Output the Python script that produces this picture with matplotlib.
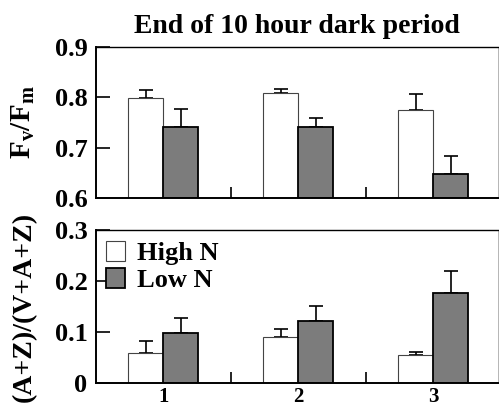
import numpy as np
import matplotlib
matplotlib.use("Agg")
import matplotlib.pyplot as plt

plt.rcParams['font.family'] = ['Liberation Serif', 'DejaVu Serif']
plt.rcParams['font.weight'] = 'bold'
plt.rcParams['mathtext.fontset'] = 'custom'
plt.rcParams['mathtext.rm'] = 'Liberation Serif:bold'
plt.rcParams['mathtext.bf'] = 'Liberation Serif:bold'
plt.rcParams['mathtext.it'] = 'Liberation Serif:bold'

groups = ['1', '2', '3']
fvfm_high = [0.799, 0.808, 0.775]
fvfm_high_err = [0.015, 0.009, 0.031]
fvfm_low = [0.742, 0.742, 0.648]
fvfm_low_err = [0.034, 0.017, 0.036]
az_high = [0.058, 0.091, 0.054]
az_high_err = [0.025, 0.015, 0.007]
az_low = [0.099, 0.122, 0.177]
az_low_err = [0.028, 0.029, 0.043]

fig = plt.figure(figsize=(4.99, 4.09), dpi=100)
ax1 = fig.add_axes([0.192, 0.516, 0.806, 0.369])
ax2 = fig.add_axes([0.192, 0.0636, 0.806, 0.374])

x = np.arange(1, len(groups) + 1)
w = 0.26
high_col = 'white'
low_col = '#7c7c7c'
tick_fs = 19


def draw(ax, hi, hi_err, lo, lo_err, base):
    ax.bar(x - w / 2, np.array(hi) - base, w, bottom=base, color=high_col,
           edgecolor='#444444', linewidth=0.8, label='High N', zorder=2)
    ax.bar(x + w / 2, np.array(lo) - base, w, bottom=base, color=low_col,
           edgecolor='black', linewidth=1.3, label='Low N', zorder=2)
    ax.errorbar(x - w / 2, hi, yerr=[np.zeros(3), hi_err], fmt='none',
                ecolor='black', elinewidth=1.2, capsize=5, capthick=1.2, zorder=1)
    ax.errorbar(x + w / 2, lo, yerr=[np.zeros(3), lo_err], fmt='none',
                ecolor='black', elinewidth=1.2, capsize=5, capthick=1.2, zorder=1)
    ax.set_xlim(0.5, 3.48)
    ax.set_xticks([1.5, 2.5])
    ax.tick_params(axis='x', direction='in', length=8, width=1.2, labelbottom=False)
    ax.tick_params(axis='y', direction='in', length=10, width=1.2,
                   labelsize=tick_fs, pad=6)
    for s in ['left', 'bottom']:
        ax.spines[s].set_linewidth(1.4)
    ax.spines['top'].set_linewidth(1.0)
    ax.spines['right'].set_linewidth(0.6)
    ax.spines['right'].set_color('#aaaaaa')


draw(ax1, fvfm_high, fvfm_high_err, fvfm_low, fvfm_low_err, 0.6)
ax1.set_ylim(0.6, 0.9)
ax1.set_yticks([0.6, 0.7, 0.8, 0.9])
ax1.set_yticklabels(['0.6', '0.7', '0.8', '0.9'], fontweight='bold')
ax1.set_ylabel(r'$\mathrm{F_v/F_m}$', fontsize=21)
ax1.yaxis.set_label_coords(-0.147, 0.5)
ax1.set_title('End of 10 hour dark period', fontsize=20, fontweight='bold', pad=10)

draw(ax2, az_high, az_high_err, az_low, az_low_err, 0.0)
ax2.set_ylim(0, 0.3)
ax2.set_yticks([0, 0.1, 0.2, 0.3])
ax2.set_yticklabels(['0', '0.1', '0.2', '0.3'], fontweight='bold')
ax2.set_ylabel('(A+Z)/(V+A+Z)', fontsize=20, fontweight='bold')
ax2.yaxis.set_label_coords(-0.147, 0.5)
for xi, g in zip(x, groups):
    ax2.text(xi, -0.0465, g, ha='center', va='bottom', fontsize=15, fontweight='bold')

ax2.legend(loc='upper left', frameon=False, handlelength=0.7,
           handleheight=0.8, handletextpad=0.45, labelspacing=0.12,
           borderaxespad=0.2, borderpad=0.2,
           prop={'weight': 'bold', 'size': 19})

fig.savefig('out.png', dpi=100)
